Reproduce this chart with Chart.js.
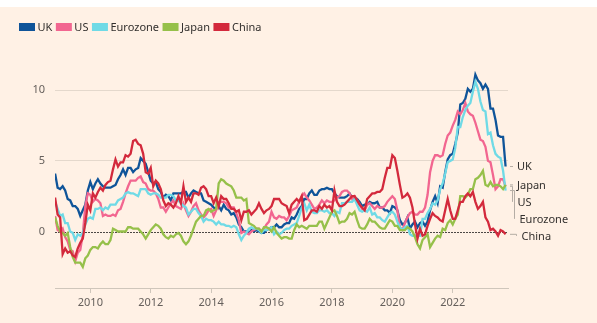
<!DOCTYPE html>
<html>
<head>
<meta charset="utf-8">
<script src="https://cdn.jsdelivr.net/npm/chart.js@4"></script>
<style>
  html, body { margin: 0; padding: 0; background: #fff; }
  #wrap { width: 597px; height: 323px; }
</style>
</head>
<body>
<div id="wrap"><canvas id="chart" width="597" height="323"></canvas></div>
<script>
// monthly annual inflation (%), Nov 2008 .. Oct 2023
const firstYear = 2008, firstMonth = 11;
const seriesNames = ['UK', 'US', 'Eurozone', 'Japan', 'China'];
const seriesColors = ['#0F5499', '#F26690', '#6FDAE6', '#96C04A', '#D3293C'];

const ukValues = [
  4.1, 3.1,
  3.0, 3.2, 2.9, 2.3, 2.2, 1.8, 1.8, 1.6, 1.1, 1.5, 1.9, 2.9,
  3.5, 3.0, 3.4, 3.7, 3.4, 3.2, 3.1, 3.1, 3.1, 3.2, 3.3, 3.7,
  4.0, 4.4, 4.0, 4.5, 4.5, 4.2, 4.4, 4.5, 5.2, 5.0, 4.8, 4.2,
  3.6, 3.4, 3.5, 3.0, 2.8, 2.4, 2.6, 2.5, 2.2, 2.7, 2.7, 2.7,
  2.7, 2.8, 2.8, 2.4, 2.7, 2.9, 2.8, 2.7, 2.7, 2.2, 2.1, 2.0,
  1.9, 1.7, 1.6, 1.8, 1.5, 1.9, 1.6, 1.5, 1.2, 1.3, 1.0, 0.5,
  0.3, 0.0, 0.0, -0.1, 0.1, 0.0, 0.1, 0.0, -0.1, -0.1, 0.1, 0.2,
  0.3, 0.3, 0.5, 0.3, 0.3, 0.5, 0.6, 0.6, 1.0, 0.9, 1.2, 1.6,
  1.8, 2.3, 2.3, 2.7, 2.9, 2.6, 2.6, 2.9, 3.0, 3.0, 3.1, 3.0,
  3.0, 2.7, 2.5, 2.4, 2.4, 2.4, 2.5, 2.7, 2.4, 2.4, 2.3, 2.1,
  1.8, 1.9, 1.9, 2.1, 2.0, 2.0, 2.1, 1.7, 1.7, 1.5, 1.5, 1.3,
  1.8, 1.7, 1.5, 0.8, 0.5, 0.6, 1.0, 0.2, 0.5, 0.7, 0.3, 0.6,
  0.7, 0.4, 0.7, 1.5, 2.1, 2.5, 2.0, 3.2, 3.1, 4.2, 5.1, 5.4,
  5.5, 6.2, 7.0, 9.0, 9.1, 9.4, 10.1, 9.9, 10.1, 11.1, 10.7, 10.5,
  10.1, 10.4, 10.1, 8.7, 8.7, 7.9, 6.8, 6.7, 6.7, 4.6
];
const usValues = [
  1.1, 0.1,
  0.0, 0.2, -0.4, -0.7, -1.3, -1.4, -2.1, -1.5, -1.3, -0.2, 1.8, 2.7,
  2.6, 2.1, 2.3, 2.2, 2.0, 1.1, 1.2, 1.1, 1.1, 1.2, 1.1, 1.5,
  1.6, 2.1, 2.7, 3.2, 3.6, 3.6, 3.6, 3.8, 3.9, 3.5, 3.4, 3.0,
  2.9, 2.9, 2.7, 2.3, 1.7, 1.7, 1.4, 1.7, 2.0, 2.2, 1.8, 1.7,
  1.6, 2.0, 1.5, 1.1, 1.4, 1.8, 2.0, 1.5, 1.2, 1.0, 1.2, 1.5,
  1.6, 1.1, 1.5, 2.0, 2.1, 2.1, 2.0, 1.7, 1.7, 1.7, 1.3, 0.8,
  -0.1, 0.0, -0.1, -0.2, 0.0, 0.1, 0.2, 0.2, 0.0, 0.2, 0.5, 0.7,
  1.4, 1.0, 0.9, 1.1, 1.0, 1.0, 0.8, 1.1, 1.5, 1.6, 1.7, 2.1,
  2.5, 2.7, 2.4, 2.2, 1.9, 1.6, 1.7, 1.9, 2.2, 2.0, 2.2, 2.1,
  2.1, 2.2, 2.4, 2.5, 2.8, 2.9, 2.9, 2.7, 2.3, 2.5, 2.2, 1.9,
  1.6, 1.5, 1.9, 2.0, 1.8, 1.6, 1.8, 1.7, 1.7, 1.8, 2.1, 2.3,
  2.5, 2.3, 1.5, 0.3, 0.1, 0.6, 1.0, 1.3, 1.4, 1.2, 1.2, 1.4,
  1.4, 1.7, 2.6, 4.2, 5.0, 5.4, 5.4, 5.3, 5.4, 6.2, 6.8, 7.0,
  7.5, 7.9, 8.5, 8.3, 8.6, 9.1, 8.5, 8.3, 8.2, 7.7, 7.1, 6.5,
  6.4, 6.0, 5.0, 4.9, 4.0, 3.0, 3.2, 3.7, 3.7, 3.2
];
const eurozoneValues = [
  2.1, 1.6,
  1.1, 1.2, 0.6, 0.6, 0.0, -0.1, -0.6, -0.2, -0.3, -0.1, 0.5, 0.9,
  1.0, 0.9, 1.6, 1.6, 1.7, 1.5, 1.7, 1.6, 1.9, 1.9, 1.9, 2.2,
  2.3, 2.4, 2.7, 2.8, 2.7, 2.7, 2.6, 2.5, 3.0, 3.0, 3.0, 2.7,
  2.6, 2.7, 2.7, 2.6, 2.4, 2.4, 2.4, 2.6, 2.6, 2.5, 2.2, 2.2,
  2.0, 1.8, 1.7, 1.2, 1.4, 1.6, 1.6, 1.3, 1.1, 0.7, 0.9, 0.8,
  0.8, 0.7, 0.5, 0.7, 0.5, 0.5, 0.4, 0.4, 0.3, 0.4, 0.3, -0.2,
  -0.6, -0.3, -0.1, 0.2, 0.3, 0.2, 0.2, 0.1, -0.1, 0.1, 0.1, 0.2,
  0.3, -0.2, 0.0, -0.2, -0.1, 0.1, 0.2, 0.2, 0.4, 0.5, 0.6, 1.1,
  1.7, 2.0, 1.5, 1.9, 1.4, 1.3, 1.3, 1.5, 1.5, 1.4, 1.5, 1.3,
  1.3, 1.1, 1.4, 1.3, 2.0, 2.0, 2.1, 2.1, 2.1, 2.3, 1.9, 1.5,
  1.4, 1.5, 1.4, 1.7, 1.2, 1.3, 1.0, 1.0, 0.8, 0.7, 1.0, 1.3,
  1.4, 1.2, 0.7, 0.3, 0.1, 0.3, 0.4, -0.2, -0.3, -0.3, -0.3, -0.3,
  0.9, 0.9, 1.3, 1.6, 2.0, 1.9, 2.2, 3.0, 3.4, 4.1, 4.9, 5.0,
  5.1, 5.9, 7.4, 7.4, 8.1, 8.6, 8.9, 9.1, 9.9, 10.6, 10.1, 9.2,
  8.6, 8.5, 6.9, 7.0, 6.1, 5.5, 5.3, 5.2, 4.3, 2.9
];
const japanValues = [
  1.0, 0.4,
  0.0, -0.1, -0.3, -0.1, -1.1, -1.8, -2.2, -2.2, -2.2, -2.5, -1.9, -1.7,
  -1.3, -1.1, -1.1, -1.2, -0.9, -0.7, -0.9, -0.9, -0.6, 0.2, 0.1, 0.0,
  0.0, 0.0, 0.0, 0.3, 0.3, 0.2, 0.2, 0.2, 0.0, -0.2, -0.5, -0.2,
  0.1, 0.3, 0.5, 0.4, 0.2, -0.2, -0.4, -0.5, -0.3, -0.4, -0.2, -0.1,
  -0.3, -0.7, -0.9, -0.7, -0.3, 0.2, 0.7, 0.9, 1.1, 1.1, 1.5, 1.6,
  1.4, 1.5, 1.6, 3.4, 3.7, 3.6, 3.4, 3.3, 3.2, 2.9, 2.4, 2.4,
  2.4, 2.2, 2.3, 0.6, 0.5, 0.4, 0.2, 0.2, 0.0, 0.3, 0.3, 0.2,
  0.0, 0.3, -0.1, -0.3, -0.5, -0.4, -0.4, -0.5, -0.5, 0.1, 0.5, 0.3,
  0.4, 0.3, 0.2, 0.4, 0.4, 0.4, 0.4, 0.7, 0.7, 0.2, 0.6, 1.0,
  1.4, 1.5, 1.1, 0.6, 0.7, 0.7, 0.9, 1.3, 1.2, 1.4, 0.8, 0.3,
  0.2, 0.2, 0.5, 0.9, 0.7, 0.7, 0.5, 0.3, 0.2, 0.2, 0.5, 0.8,
  0.7, 0.4, 0.4, 0.1, 0.1, 0.1, 0.3, 0.2, 0.0, -0.4, -0.9, -1.2,
  -0.6, -0.4, -0.2, -1.1, -0.8, -0.5, -0.3, -0.4, 0.2, 0.1, 0.6, 0.8,
  0.5, 0.9, 1.2, 2.5, 2.5, 2.4, 2.6, 3.0, 3.0, 3.7, 3.8, 4.0,
  4.3, 3.3, 3.2, 3.5, 3.2, 3.3, 3.3, 3.2, 3.0, 3.3
];
const chinaValues = [
  2.4, 1.2,
  1.0, -1.6, -1.2, -1.5, -1.4, -1.7, -1.8, -1.2, -0.8, -0.5, 0.6, 1.9,
  1.5, 2.7, 2.4, 2.8, 3.1, 2.9, 3.3, 3.5, 3.6, 4.4, 5.1, 4.6,
  4.9, 4.9, 5.4, 5.3, 5.5, 6.4, 6.5, 6.2, 6.1, 5.5, 4.2, 4.1,
  4.5, 3.2, 3.6, 3.4, 3.0, 2.2, 1.8, 2.0, 1.9, 1.7, 2.0, 2.5,
  2.0, 3.2, 2.1, 2.4, 2.1, 2.7, 2.7, 2.6, 3.1, 3.2, 3.0, 2.5,
  2.5, 2.0, 2.4, 1.8, 2.5, 2.3, 2.3, 2.0, 1.6, 1.6, 1.4, 1.5,
  0.8, 1.4, 1.4, 1.5, 1.2, 1.4, 1.6, 2.0, 1.6, 1.3, 1.5, 1.6,
  1.8, 2.3, 2.3, 2.3, 2.0, 1.9, 1.8, 1.3, 1.9, 2.1, 2.3, 2.1,
  2.5, 0.8, 0.9, 1.2, 1.5, 1.5, 1.4, 1.8, 1.6, 1.9, 1.7, 1.8,
  1.5, 2.9, 2.1, 1.8, 1.8, 1.9, 2.1, 2.3, 2.5, 2.5, 2.2, 1.9,
  1.7, 1.5, 2.3, 2.5, 2.7, 2.7, 2.8, 2.8, 3.0, 3.8, 4.5, 4.5,
  5.4, 5.2, 4.3, 3.3, 2.4, 2.5, 2.7, 2.4, 1.7, 0.5, -0.5, 0.2,
  -0.3, -0.2, 0.4, 0.9, 1.3, 1.1, 1.0, 0.8, 0.7, 1.5, 2.3, 1.5,
  0.9, 0.9, 1.5, 2.1, 2.1, 2.5, 2.7, 2.5, 2.8, 2.1, 1.6, 1.8,
  2.1, 1.0, 0.7, 0.1, 0.2, 0.0, -0.3, 0.1, 0.0, -0.2
];

const xTickYears = [2010, 2012, 2014, 2016, 2018, 2020, 2022];
const yTickValues = [0, 5, 10];

const allValues = [ukValues, usValues, eurozoneValues, japanValues, chinaValues];
const cream = '#FFF1E5';
const tickColor = '#66605C';
const textColor = '#33302E';
const fontFamily = '"Noto Sans", sans-serif';

function monthToX(i) {
  return firstYear + (firstMonth - 1 + i) / 12;
}

const datasets = seriesNames.map((name, k) => ({
  label: name,
  data: allValues[k].map((v, i) => ({x: monthToX(i), y: v})),
  borderColor: seriesColors[k],
  backgroundColor: seriesColors[k],
  borderWidth: 2.3,
  pointRadius: 0,
  tension: 0,
  order: seriesNames.length - k
}));

const backgroundPlugin = {
  id: 'bg',
  beforeDraw(chart) {
    const ctx = chart.ctx;
    ctx.save();
    ctx.fillStyle = '#ffffff';
    ctx.fillRect(0, 0, chart.width, chart.height);
    ctx.fillStyle = cream;
    ctx.fillRect(0, 7, chart.width, chart.height - 7);
    ctx.restore();
  }
};

const zeroLinePlugin = {
  id: 'zeroLine',
  beforeDatasetsDraw(chart) {
    const {ctx, chartArea, scales} = chart;
    const y = Math.round(scales.y.getPixelForValue(0)) + 0.5;
    ctx.save();
    ctx.strokeStyle = '#4D4845';
    ctx.lineWidth = 1;
    ctx.setLineDash([2, 1]);
    ctx.beginPath();
    ctx.moveTo(chartArea.left, y);
    ctx.lineTo(chartArea.right, y);
    ctx.stroke();
    ctx.restore();
  }
};

const legendPlugin = {
  id: 'topLegend',
  afterDraw(chart) {
    const ctx = chart.ctx;
    ctx.save();
    ctx.font = '11px ' + fontFamily;
    ctx.textBaseline = 'middle';
    let x = 19;
    seriesNames.forEach((name, k) => {
      ctx.fillStyle = seriesColors[k];
      ctx.fillRect(x, 23, 16, 8);
      ctx.fillStyle = textColor;
      ctx.fillText(name, x + 18.5, 27.5);
      x += 18.5 + ctx.measureText(name).width + 3.5;
    });
    ctx.restore();
  }
};

const endLabelPlugin = {
  id: 'endLabels',
  afterDatasetsDraw(chart) {
    const {ctx, chartArea, scales} = chart;
    const right = chartArea.right;
    const items = seriesNames.map((name, k) => {
      const vals = allValues[k];
      return {name, dataY: scales.y.getPixelForValue(vals[vals.length - 1])};
    }).sort((a, b) => a.dataY - b.dataY);
    let prev = -Infinity, shift = 0;
    ctx.save();
    ctx.font = '11px ' + fontFamily;
    ctx.textBaseline = 'middle';
    ctx.strokeStyle = '#B5ADA5';
    ctx.lineWidth = 1;
    items.forEach(it => {
      const labelY = Math.max(it.dataY, prev + 17);
      prev = labelY;
      let textX = right + 9;
      ctx.beginPath();
      if (labelY - it.dataY < 0.5) {
        ctx.moveTo(right + 2, it.dataY);
        ctx.lineTo(right + 5, it.dataY);
      } else {
        shift += 1;
        const xv = right + 2 + 2 * shift + 0.5;
        ctx.moveTo(right + 2, it.dataY);
        ctx.lineTo(xv, it.dataY);
        ctx.lineTo(xv, labelY);
        textX = xv + 5;
      }
      ctx.stroke();
      ctx.fillStyle = textColor;
      ctx.fillText(it.name, textX, labelY + 0.5);
    });
    ctx.restore();
  }
};

new Chart(document.getElementById('chart'), {
  type: 'line',
  data: {datasets},
  options: {
    responsive: false,
    animation: false,
    devicePixelRatio: 1,
    layout: {padding: {top: 62, right: 89, bottom: 0, left: 0}},
    plugins: {legend: {display: false}, tooltip: {enabled: false}},
    scales: {
      x: {
        type: 'linear',
        min: 2008.83,
        max: 2023.83,
        afterBuildTicks: scale => { scale.ticks = xTickYears.map(v => ({value: v})); },
        afterFit: scale => { scale.height = 35; },
        grid: {drawOnChartArea: false, drawTicks: true, tickLength: 5, color: '#CFC6BB'},
        border: {display: true, color: '#CFC6BB'},
        ticks: {
          color: tickColor,
          font: {family: fontFamily, size: 11},
          padding: 3,
          maxRotation: 0,
          callback: v => String(v)
        }
      },
      y: {
        min: -4,
        max: 12,
        afterBuildTicks: scale => { scale.ticks = yTickValues.map(v => ({value: v})); },
        afterFit: scale => { scale.width = 55; },
        grid: {
          drawTicks: false,
          color: ctx => (ctx.tick && ctx.tick.value === 0) ? 'rgba(0,0,0,0)' : '#E4D8CC'
        },
        border: {display: false},
        ticks: {
          color: tickColor,
          font: {family: fontFamily, size: 11},
          padding: 10,
          callback: v => String(v)
        }
      }
    }
  },
  plugins: [backgroundPlugin, zeroLinePlugin, endLabelPlugin, legendPlugin]
});
</script>
</body>
</html>
